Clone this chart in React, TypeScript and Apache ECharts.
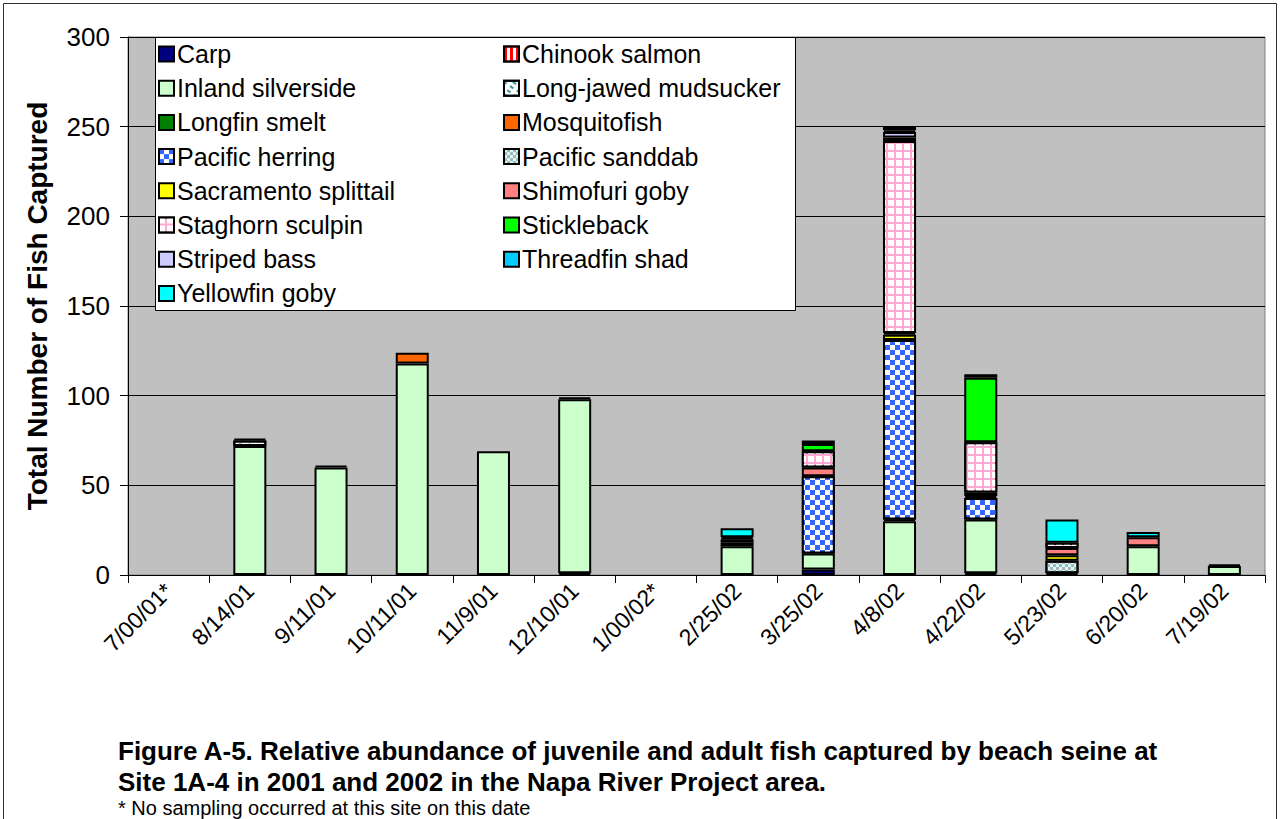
import React, { useEffect, useRef } from "react";
import * as echarts from "echarts";

const categories = ["7/00/01*", "8/14/01", "9/11/01", "10/11/01", "11/9/01", "12/10/01", "1/00/02*", "2/25/02", "3/25/02", "4/8/02", "4/22/02", "5/23/02", "6/20/02", "7/19/02"];

const carp = [0, 0, 0, 0, 0, 1, 0, 0, 3, 0, 1, 1, 0, 0];
const chinookSalmon = [0, 0, 0, 0, 0, 0, 0, 0, 0, 0, 0, 0, 0, 0];
const inlandSilverside = [0, 72, 60, 118, 69, 97, 0, 16, 9, 30, 30, 0, 16, 5];
const longJawedMudsucker = [0, 3, 0, 0, 0, 0, 0, 0, 0, 0, 0, 0, 0, 0];
const longfinSmelt = [0, 1, 1, 0, 0, 1, 0, 0, 0, 1, 0, 0, 0, 1];
const mosquitofish = [0, 0, 0, 6, 0, 0, 0, 0, 0, 0, 0, 0, 0, 0];
const pacificHerring = [0, 0, 0, 0, 0, 0, 0, 0, 43, 100, 12, 0, 0, 0];
const pacificSanddab = [0, 0, 0, 0, 0, 0, 0, 0, 0, 0, 0, 7, 0, 0];
const sacramentoSplittail = [0, 0, 0, 0, 0, 0, 0, 2, 0, 3, 1, 3, 0, 0];
const shimofuriGoby = [0, 0, 0, 0, 0, 0, 0, 2, 5, 1, 2, 4, 5, 0];
const staghornSculpin = [0, 0, 0, 0, 0, 0, 0, 1, 9, 107, 28, 3, 0, 0];
const stickleback = [0, 0, 0, 0, 0, 0, 0, 0, 4, 2, 36, 0, 0, 0];
const stripedBass = [0, 0, 0, 0, 0, 0, 0, 0, 0, 3, 0, 0, 0, 0];
const threadfinShad = [0, 0, 0, 0, 0, 0, 0, 0, 2, 1, 2, 0, 0, 0];
const yellowfinGoby = [0, 0, 0, 0, 0, 0, 0, 5, 0, 2, 0, 13, 3, 0];

const yTicks = [0, 50, 100, 150, 200, 250, 300];

const speciesList: { name: string; data: number[]; color: string; decal?: any }[] = [
  { name: "Carp", data: carp, color: "#000080" },
  { name: "Chinook salmon", data: chinookSalmon, color: "#ffffff", decal: { symbol: "rect", color: "#ff0000", dashArrayX: [3, 3], dashArrayY: [8, 0], symbolSize: 1, rotation: 0 } },
  { name: "Inland silverside", data: inlandSilverside, color: "#ccffcc" },
  { name: "Long-jawed mudsucker", data: longJawedMudsucker, color: "#ffffff", decal: { symbol: "rect", color: "#339999", dashArrayX: [4, 4], dashArrayY: [2, 3], symbolSize: 1, rotation: 0.6 } },
  { name: "Longfin smelt", data: longfinSmelt, color: "#008000" },
  { name: "Mosquitofish", data: mosquitofish, color: "#ff6600" },
  { name: "Pacific herring", data: pacificHerring, color: "#3366ff", decal: { symbol: "rect", color: "#ffffff", dashArrayX: [[5, 5], [0, 5, 5, 0]], dashArrayY: [5, 0], symbolSize: 1, rotation: 0 } },
  { name: "Pacific sanddab", data: pacificSanddab, color: "#ccffff", decal: { symbol: "rect", color: "#b0b0b0", dashArrayX: [[3, 3], [0, 3, 3, 0]], dashArrayY: [3, 0], symbolSize: 1, rotation: 0 } },
  { name: "Sacramento splittail", data: sacramentoSplittail, color: "#ffff00" },
  { name: "Shimofuri goby", data: shimofuriGoby, color: "#ff8080" },
  { name: "Staghorn sculpin", data: staghornSculpin, color: "#ffaad4", decal: { symbol: "rect", color: "#ffffff", dashArrayX: [6, 2], dashArrayY: [6, 2], symbolSize: 1, rotation: 0 } },
  { name: "Stickleback", data: stickleback, color: "#00ff00" },
  { name: "Striped bass", data: stripedBass, color: "#ccccff" },
  { name: "Threadfin shad", data: threadfinShad, color: "#00ccff" },
  { name: "Yellowfin goby", data: yellowfinGoby, color: "#00ffff" },
];

const leftLegend = ["Carp", "Inland silverside", "Longfin smelt", "Pacific herring", "Sacramento splittail", "Staghorn sculpin", "Striped bass", "Yellowfin goby"];
const rightLegend = ["Chinook salmon", "Long-jawed mudsucker", "Mosquitofish", "Pacific sanddab", "Shimofuri goby", "Stickleback", "Threadfin shad"];

const FONT = "'Liberation Sans', Arial, sans-serif";

export default function App() {
  const ref = useRef<HTMLDivElement>(null);
  useEffect(() => {
    if (!ref.current) return;
    const chart = echarts.init(ref.current, undefined, { renderer: "svg" });
    const legendCommon = {
      orient: "vertical" as const,
      top: 41,
      padding: 0,
      itemWidth: 15,
      itemHeight: 15,
      itemGap: 8.2,
      icon: "rect",
      z: 5,
      textStyle: { fontFamily: FONT, fontSize: 25, color: "#000", lineHeight: 26, padding: [0, 0, 0, -2] },
      selectedMode: false,
    };
    chart.setOption({
      animation: false,
      backgroundColor: "#ffffff",
      textStyle: { fontFamily: FONT },
      grid: { left: 128, top: 37, right: 15, bottom: 244, show: true, backgroundColor: "#c0c0c0", borderColor: "#808080", borderWidth: 1 },
      legend: [
        { ...legendCommon, left: 158, data: leftLegend },
        { ...legendCommon, left: 503, data: rightLegend },
      ],
      xAxis: {
        type: "category",
        data: categories,
        axisLine: { lineStyle: { color: "#000", width: 1 } },
        axisTick: { show: true, length: 8, lineStyle: { color: "#000" } },
        axisLabel: { rotate: 45, fontSize: 23, color: "#000", fontFamily: FONT, margin: 12, interval: 0 },
      },
      yAxis: {
        type: "value",
        min: 0,
        max: 300,
        interval: 50,
        axisLine: { show: true, lineStyle: { color: "#000" } },
        axisTick: { show: true, length: 8, lineStyle: { color: "#000" } },
        axisLabel: {
          fontSize: 26,
          color: "#000",
          fontFamily: FONT,
          margin: 18,
          formatter: (v: number) => (yTicks.includes(v) ? String(v) : ""),
        },
        splitLine: { show: true, lineStyle: { color: "#000", width: 1 } },
      },
      series: speciesList.map((s) => ({
        name: s.name,
        type: "bar",
        stack: "total",
        barWidth: 33,
        data: s.data.map((v) => (v === 0 ? "-" : v)),
        itemStyle: { color: s.color, borderColor: "#000", borderWidth: 2, decal: s.decal },
      })),
      aria: { enabled: false, decal: { show: true } },
      graphic: [
        {
          type: "rect",
          z: 3,
          shape: { x: 155.5, y: 37.5, width: 640, height: 273 },
          style: { fill: "#ffffff", stroke: "#000", lineWidth: 1 },
        },
        {
          type: "rect",
          z: 0,
          silent: true,
          shape: { x: 3.5, y: 3.5, width: 1273, height: 830 },
          style: { fill: "none", stroke: "#333", lineWidth: 1 },
        },
        {
          type: "text",
          x: 37,
          y: 306,
          rotation: Math.PI / 2,
          style: { text: "Total Number of Fish Captured", font: `bold 28px ${FONT}`, fill: "#000", align: "center", verticalAlign: "middle" },
        },
        {
          type: "text",
          x: 118,
          y: 751,
          style: { text: "Figure A-5. Relative abundance of juvenile and adult fish captured by beach seine at", font: `bold 26px ${FONT}`, fill: "#000", verticalAlign: "middle" },
        },
        {
          type: "text",
          x: 118,
          y: 782,
          style: { text: "Site 1A-4 in 2001 and 2002 in the Napa River Project area.", font: `bold 26px ${FONT}`, fill: "#000", verticalAlign: "middle" },
        },
        {
          type: "text",
          x: 118,
          y: 808,
          style: { text: "* No sampling occurred at this site on this date", font: `20px ${FONT}`, fill: "#000", verticalAlign: "middle" },
        },
      ],
    });
    return () => chart.dispose();
  }, []);
  return <div ref={ref} style={{ position: "fixed", left: 0, top: 0, width: 1280, height: 819 }} />;
}
